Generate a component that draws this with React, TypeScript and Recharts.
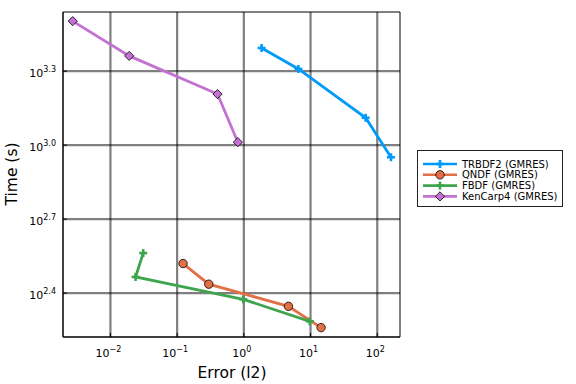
import React from 'react';
import { ScatterChart, Scatter, XAxis, YAxis, CartesianGrid, ReferenceArea } from 'recharts';

// ---- data ----
const trbdf2X = [1.845, 6.58, 67.0, 160.7];
const trbdf2Y = [2477, 2037, 1291, 893];
const qndfX = [0.1227, 0.298, 4.66, 14.39];
const qndfY = [331, 273, 222, 182];
const fbdfX = [0.031, 0.0238, 0.98, 9.73];
const fbdfY = [365, 292, 237, 193];
const kencarpX = [0.00272, 0.0191, 0.403, 0.813];
const kencarpY = [3184, 2301, 1611, 1028];

const xTicks = [0.01, 0.1, 1, 10, 100];
const xTickExp = ['\u22122', '\u22121', '0', '1', '2'];
const yTicks = [251.19, 501.19, 1000, 1995.26];
const yTickExp = ['2.4', '2.7', '3.0', '3.3'];
const xDomain = [0.001945, 219.3];
const yDomain = [166.7, 3467];

const seriesNames = ['TRBDF2 (GMRES)', 'QNDF (GMRES)', 'FBDF (GMRES)', 'KenCarp4 (GMRES)'];
const seriesColors = ['#009AFA', '#E36F47', '#3EA44E', '#C371D2'];
const seriesShapes = ['plus', 'circle', 'plus', 'diamond'];

const toData = (xs: number[], ys: number[]) => xs.map((x, i) => ({ x, y: ys[i] }));
const seriesData = [
  toData(trbdf2X, trbdf2Y),
  toData(qndfX, qndfY),
  toData(fbdfX, fbdfY),
  toData(kencarpX, kencarpY),
];

const FONT = 'DejaVu Sans, sans-serif';

function Marker({ cx, cy, shape, color }: { cx: number; cy: number; shape: string; color: string }) {
  if (cx == null || cy == null) return null;
  if (shape === 'plus') {
    const s = 4;
    return (
      <g>
        <line x1={cx - s} y1={cy} x2={cx + s} y2={cy} stroke={color} strokeWidth={2.6} />
        <line x1={cx} y1={cy - s} x2={cx} y2={cy + s} stroke={color} strokeWidth={2.6} />
      </g>
    );
  }
  if (shape === 'circle') {
    return <circle cx={cx} cy={cy} r={4.2} fill={color} stroke="#000" strokeWidth={0.8} />;
  }
  const d = 4.6;
  return (
    <polygon
      points={`${cx},${cy - d} ${cx + d},${cy} ${cx},${cy + d} ${cx - d},${cy}`}
      fill={color}
      stroke="#000"
      strokeWidth={0.8}
    />
  );
}

function XTick(props: any) {
  const { x, y, index } = props;
  return (
    <g>
      <line x1={x} y1={y} x2={x} y2={y - 4} stroke="#000" strokeWidth={1} />
      <text x={x - 2} y={y + 20} textAnchor="middle" fontFamily={FONT} fontSize={11} fill="#000">
        10
        <tspan dy={-5} fontSize={8}>{xTickExp[index]}</tspan>
      </text>
    </g>
  );
}

function YTick(props: any) {
  const { x, y, index } = props;
  return (
    <g>
      <line x1={x} y1={y} x2={x + 4} y2={y} stroke="#000" strokeWidth={1} />
      <text x={x - 7} y={y + 6} textAnchor="end" fontFamily={FONT} fontSize={11} fill="#000">
        10
        <tspan dy={-5} fontSize={8}>{yTickExp[index]}</tspan>
      </text>
    </g>
  );
}

function Legend() {
  return (
    <div
      style={{
        position: 'absolute',
        left: 417,
        top: 150,
        width: 146,
        height: 57,
        border: '1px solid #222',
        background: '#fff',
        boxSizing: 'border-box',
      }}
    >
      <svg width={146} height={57}>
        {seriesNames.map((name, i) => {
          const cy = 13 + i * 10.8;
          return (
            <g key={name}>
              <line x1={5} y1={cy} x2={39} y2={cy} stroke={seriesColors[i]} strokeWidth={2.6} />
              <Marker cx={22} cy={cy} shape={seriesShapes[i]} color={seriesColors[i]} />
              <text x={44} y={cy + 3.5} fontFamily={FONT} fontSize={10} fill="#000">
                {name}
              </text>
            </g>
          );
        })}
      </svg>
    </div>
  );
}

export default function App() {
  return (
    <div style={{ position: 'absolute', left: 0, top: 0, width: 576, height: 384, background: '#fff' }}>
      <ScatterChart width={576} height={384} margin={{ top: 12, right: 176, bottom: 0, left: 0 }}>
        <CartesianGrid
          stroke="#000"
          strokeOpacity={0.5}
          strokeWidth={2.2}
          horizontalValues={yTicks}
          verticalValues={xTicks}
        />
        <XAxis
          type="number"
          dataKey="x"
          scale="log"
          domain={xDomain}
          ticks={xTicks}
          allowDataOverflow
          height={47}
          tickLine={false}
          tickSize={0}
          tickMargin={0}
          axisLine={{ stroke: '#000' }}
          tick={<XTick />}
          interval={0}
          label={() => (
            <text x={232} y={378} textAnchor="middle" fontFamily={FONT} fontSize={15.5} fill="#000">
              Error (l2)
            </text>
          )}
        />
        <YAxis
          type="number"
          dataKey="y"
          scale="log"
          domain={yDomain}
          ticks={yTicks}
          allowDataOverflow
          width={63}
          tickLine={false}
          tickSize={0}
          tickMargin={0}
          axisLine={{ stroke: '#000' }}
          tick={<YTick />}
          interval={0}
          label={() => (
            <text
              x={16.5}
              y={174}
              textAnchor="middle"
              transform="rotate(-90 16.5 174)"
              fontFamily={FONT}
              fontSize={15.5}
              fill="#000"
            >
              Time (s)
            </text>
          )}
        />
        <ReferenceArea
          x1={xDomain[0]}
          x2={xDomain[1]}
          y1={yDomain[0]}
          y2={yDomain[1]}
          fill="none"
          stroke="#000"
          strokeWidth={1}
          ifOverflow="visible"
        />
        {seriesData.map((data, i) => (
          <Scatter
            key={seriesNames[i]}
            name={seriesNames[i]}
            data={data}
            fill={seriesColors[i]}
            line={{ stroke: seriesColors[i], strokeWidth: 2.8 }}
            lineType="joint"
            isAnimationActive={false}
            shape={(p: any) => (
              <Marker cx={p.cx} cy={p.cy} shape={seriesShapes[i]} color={seriesColors[i]} />
            )}
          />
        ))}
      </ScatterChart>
      <Legend />
    </div>
  );
}
